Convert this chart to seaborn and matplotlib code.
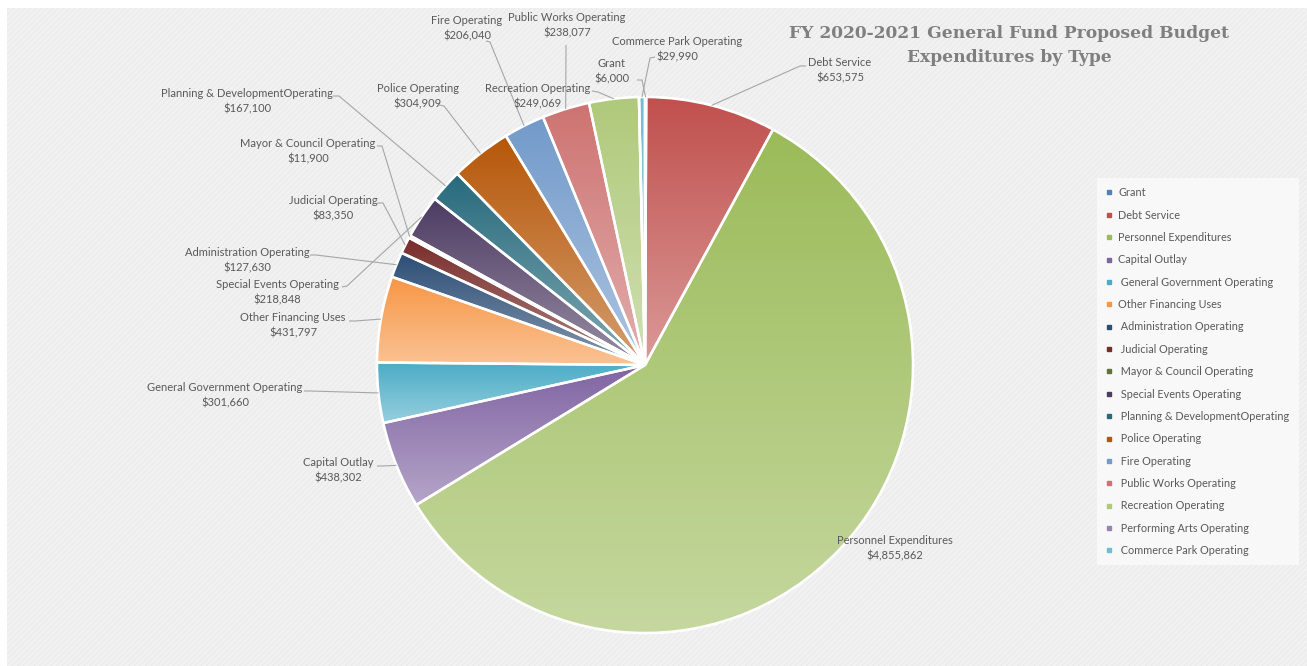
import numpy as np
import matplotlib
matplotlib.use("Agg")
import matplotlib.pyplot as plt
import seaborn as sns
from matplotlib.patches import Rectangle, Wedge
from matplotlib.lines import Line2D
from matplotlib.colors import to_rgb

# ---------------- data ----------------
categories = ["Grant", "Debt Service", "Personnel Expenditures", "Capital Outlay",
              "General Government Operating", "Other Financing Uses",
              "Administration Operating", "Judicial Operating",
              "Mayor & Council Operating", "Special Events Operating",
              "Planning & DevelopmentOperating", "Police Operating", "Fire Operating",
              "Public Works Operating", "Recreation Operating",
              "Performing Arts Operating", "Commerce Park Operating"]
values = [6000, 653575, 4855862, 438302, 301660, 431797, 127630, 83350, 11900,
          218848, 167100, 304909, 206040, 238077, 249069, 0, 29990]
legend_labels = ["Grant", "Debt Service", "Personnel Expenditures", "Capital Outlay",
                 " General Government Operating", "Other Financing Uses",
                 " Administration Operating", " Judicial Operating",
                 " Mayor & Council Operating", " Special Events Operating",
                 " Planning & DevelopmentOperating", " Police Operating",
                 " Fire Operating", " Public Works Operating", " Recreation Operating",
                 " Performing Arts Operating", " Commerce Park Operating"]
colors = ["#4F81BD", "#C0504D", "#9BBB59", "#8064A2", "#4BACC6", "#F79646",
          "#2C4D75", "#772C2A", "#5F7530", "#4D3B62", "#276A7C", "#B65708",
          "#729ACA", "#CD7371", "#AFC97A", "#9983B5", "#6FBDD1"]
title_lines = ["FY 2020-2021 General Fund Proposed Budget", "Expenditures by Type"]

# ---------------- layout (pixels) ----------------
W, H = 1307, 666
CX, CY, R = 645, 365, 268
# label centre, leader start, leader elbow
label_layout = {
    "Grant": ((612, 71), (637, 80), (642, 80)),
    "Debt Service": ((840, 70), (806, 66), (800, 66)),
    "Personnel Expenditures": ((895, 548), None, None),
    "Capital Outlay": ((338, 470), (377, 466), (383, 466)),
    "General Government Operating": ((225, 395), (304, 391), (310, 391)),
    "Other Financing Uses": ((293, 325), (349, 321), (355, 321)),
    "Administration Operating": ((247, 260), (310, 255), (316, 255)),
    "Judicial Operating": ((333, 208), (377, 203), (383, 203)),
    "Mayor & Council Operating": ((308, 151), (377, 146), (382, 146)),
    "Special Events Operating": ((277, 292), (342, 287), (347, 286)),
    "Planning & DevelopmentOperating": ((247, 101), (333, 96), (339, 96)),
    "Police Operating": ((418, 96), (439, 105), (444, 106)),
    "Fire Operating": ((467, 28), (486, 41), (490, 42)),
    "Public Works Operating": ((567, 25), (566, 45), (566, 45)),
    "Recreation Operating": ((538, 96), (592, 91), (598, 92)),
    "Commerce Park Operating": ((677, 49), (655, 57), (650, 58)),
}
LINE_GAP = 7.5

sns.set_theme(style="white")
plt.rcParams["font.family"] = ["Lato", "DejaVu Sans"]
plt.rcParams["hatch.linewidth"] = 0.35

fig = plt.figure(figsize=(W / 100, H / 100), dpi=100)
fig.patch.set_facecolor("white")
bg = Rectangle((7 / W, 0), 1 - 7 / W, 1 - 8 / H, transform=fig.transFigure,
               facecolor="#F1F1F1", edgecolor="#E3E3E3", hatch="//////", lw=0, zorder=-10)
fig.patches.append(bg)

ax = fig.add_axes([0, 0, 1, 1])


def p2d(px, py):
    return ((px - CX) / R, (CY - py) / R)


wedges, _ = ax.pie(values, colors=colors, startangle=90, counterclock=False,
                   radius=1, center=(0, 0),
                   wedgeprops=dict(edgecolor="white", linewidth=1.8))

# gradient fill per slice (top: base colour, bottom: lighter)
grad = np.linspace(0, 1, 256)[:, None, None]
for w, c in zip(wedges, colors):
    if w.theta2 - w.theta1 <= 0:
        continue
    ext = w.get_path().get_extents()
    top = np.array(to_rgb(c))
    bot = top + (1 - top) * 0.42
    img = top * (1 - grad) + bot * grad
    im = ax.imshow(img, extent=[ext.x0, ext.x1, ext.y0, ext.y1], origin="upper",
                   aspect="auto", interpolation="bilinear", zorder=2)
    im.set_clip_path(w)

for w in wedges:
    ax.add_patch(Wedge(w.center, w.r, w.theta1, w.theta2, facecolor="none",
                       edgecolor="white", lw=1.8, zorder=3))

# data labels with leader lines
for name, val, w in zip(categories, values, wedges):
    if name not in label_layout:
        continue
    (lx, ly), start, elbow = label_layout[name]
    for txt, yy in ((name, ly - LINE_GAP), (f"${val:,.0f}", ly + LINE_GAP)):
        tx, ty = p2d(lx, yy)
        ax.text(tx, ty, txt, ha="center", va="center", fontsize=8,
                color="#595959", zorder=5)
    if start is None:
        continue
    mid = np.deg2rad((w.theta1 + w.theta2) / 2)
    ex, ey = np.cos(mid) * w.r, np.sin(mid) * w.r
    sx, sy = p2d(*start)
    bx, by = p2d(*elbow)
    ax.plot([sx, bx, ex], [sy, by, ey], color="#A6A6A6", lw=0.8, zorder=4,
            solid_capstyle="butt")

ax.set_xlim(-CX / R, (W - CX) / R)
ax.set_ylim(-(H - CY) / R, CY / R)
ax.set_axis_off()

# title (two lines)
for line, py in zip(title_lines, (33, 58)):
    fig.text(1009 / W, 1 - py / H, line, ha="center", va="center",
             fontsize=12.3, fontweight="bold", family="DejaVu Serif", color="#7F7F7F")

# legend
handles = [Line2D([], [], marker="s", linestyle="", color=c, markersize=3.2)
           for c in colors]
leg = fig.legend(handles, legend_labels, loc="upper left",
                 bbox_to_anchor=(1097 / W, 1 - 178 / H), bbox_transform=fig.transFigure,
                 frameon=True, fancybox=False, facecolor="#F8F8F8", edgecolor="none",
                 framealpha=1, fontsize=7.8, labelcolor="#595959", labelspacing=1.05,
                 handlelength=0.6, handletextpad=0.5, borderpad=0.85, borderaxespad=0)

fig.savefig("out.png", dpi=100)
